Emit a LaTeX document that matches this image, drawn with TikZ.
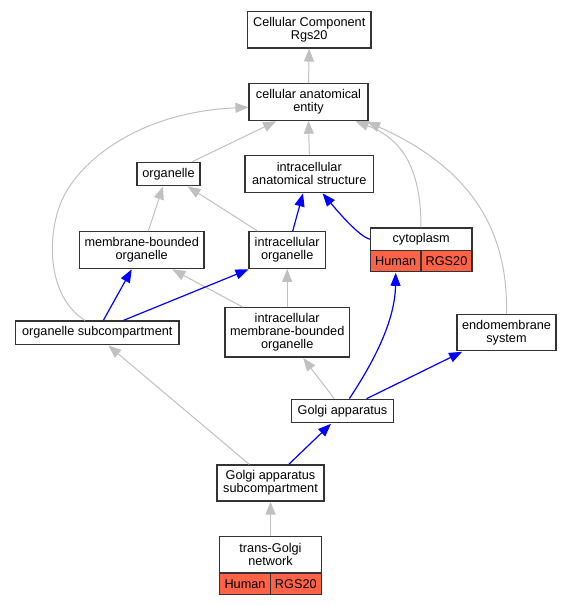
\documentclass[tikz,border=0pt]{standalone}
\usepackage{fontspec}
\setmainfont{Liberation Sans}
\usetikzlibrary{arrows.meta,calc}
\definecolor{edgegray}{HTML}{C0C0C0}
\definecolor{tomatored}{HTML}{FF6347}
\begin{document}
\begin{tikzpicture}[x=1pt,y=-1pt,
  every node/.style={font=\fontsize{12.7}{13}\selectfont},
  box/.style={draw=black!80,line width=1.2pt,rectangle,inner sep=0pt,align=center,fill=white},
  cell/.style={box,fill=tomatored},
  gedge/.style={draw=edgegray,line width=1pt,-{Triangle[length=13pt,width=10pt]}},
  bedge/.style={draw=blue,line width=1.2pt,-{Triangle[length=13pt,width=10pt]}}]
\useasboundingbox (0,0) rectangle (572,605);
% nodes
\node[box,minimum width=123.7pt,minimum height=36.3pt] (cc) at (309.2,29.8) {Cellular Component\\Rgs20};
\node[box,minimum width=119pt,minimum height=36.3pt] (cae) at (308.5,102) {cellular anatomical\\entity};
\node[box,minimum width=63pt,minimum height=23pt] (org) at (168.5,173.8) {organelle};
\node[box,minimum width=128.7pt,minimum height=37pt] (ias) at (309.3,173.8) {intracellular\\anatomical structure};
\node[box,minimum width=124.7pt,minimum height=36.6pt] (mbo) at (141.7,250) {membrane-bounded\\organelle};
\node[box,minimum width=76.3pt,minimum height=36.6pt] (io) at (287.2,250) {intracellular\\organelle};
\node[box,minimum width=101.7pt,minimum height=22.7pt] (cyto) at (421.2,239.3) {cytoplasm};
\node[cell,minimum width=50.7pt,minimum height=21pt] (cytoH) at (395.7,261.2) {Human};
\node[cell,minimum width=51pt,minimum height=21pt] (cytoR) at (446.5,261.2) {RGS20};
\node[box,minimum width=163.3pt,minimum height=23.3pt] (osc) at (97.3,332.7) {organelle subcompartment};
\node[box,minimum width=124.3pt,minimum height=49.3pt] (imbo) at (287.2,332.3) {intracellular\\membrane-bounded\\organelle};
\node[box,minimum width=99pt,minimum height=36.4pt] (ems) at (506.5,332.5) {endomembrane\\system};
\node[box,minimum width=101.6pt,minimum height=23.4pt] (ga) at (342.5,411) {Golgi apparatus};
\node[box,minimum width=107pt,minimum height=36pt] (gasc) at (270.5,483) {Golgi apparatus\\subcompartment};
\node[box,minimum width=101.6pt,minimum height=36.3pt] (tgn) at (270.5,554.8) {trans-Golgi\\network};
\node[cell,minimum width=50.6pt,minimum height=21.3pt] (tgnH) at (245,583.7) {Human};
\node[cell,minimum width=51pt,minimum height=21.3pt] (tgnR) at (295.8,583.7) {RGS20};
% gray edges
\draw[gedge] (cae.north) -- (cc.south);
\draw[gedge] ($(org.north east)+(-8.3,0)$) -- ($(cae.south west)+(27.7,0.5)$);
\draw[gedge] (ias.north) -- (cae.south);
\draw[gedge] ($(osc.north)+(-12.3,0)$) .. controls (45,295) and (47.6,232) .. (62,200) .. controls (80,160) and (140,112) .. ($(cae.west)+(0,5.3)$);
\draw[gedge] ($(cyto.north)+(-0.2,0)$) .. controls (421,165) and (400,138) .. ($(cae.south east)+(-13,0.5)$);
\draw[gedge] (ems.north) .. controls (508,240) and (480,172) .. ($(cae.south east)+(-1.5,1)$);
\draw[gedge] ($(mbo.north)+(6.6,0)$) -- ($(org.south)+(-5.5,0.5)$);
\draw[gedge] ($(io.north west)+(9.3,0)$) -- ($(org.south east)+(-13,0.5)$);
\draw[gedge] ($(imbo.north west)+(18.3,0)$) -- ($(mbo.south east)+(-32.3,0.5)$);
\draw[gedge] (imbo.north) -- (io.south);
\draw[gedge] ($(ga.north)+(-8.2,0)$) -- ($(imbo.south)+(16,0.5)$);
\draw[gedge] ($(gasc.north)+(-21.2,0)$) -- ($(osc.south)+(11,0.5)$);
\draw[gedge] (tgn.north) -- (gasc.south);
% blue edges
\draw[bedge] ($(io.north)+(5.5,0)$) -- ($(ias.south)+(-6.3,0.5)$);
\draw[bedge] (cyto.west) .. controls (360,236) and (345,220) .. ($(ias.south east)+(-51.7,0.5)$);
\draw[bedge] ($(osc.north)+(6,0)$) -- ($(mbo.south)+(-10,0.5)$);
\draw[bedge] ($(osc.north)+(26,0)$) -- ($(io.south west)+(0,0.5)$);
\draw[bedge] ($(ga.north)+(6.8,0)$) .. controls (375,360) and (395,320) .. ($(cytoH.south)+(0,0.5)$);
\draw[bedge] ($(ga.north east)+(-27.3,0)$) -- ($(ems.south west)+(5.7,0.5)$);
\draw[bedge] ($(gasc.north)+(18.2,0)$) -- ($(ga.south)+(-11.5,0.5)$);
\end{tikzpicture}
\end{document}
